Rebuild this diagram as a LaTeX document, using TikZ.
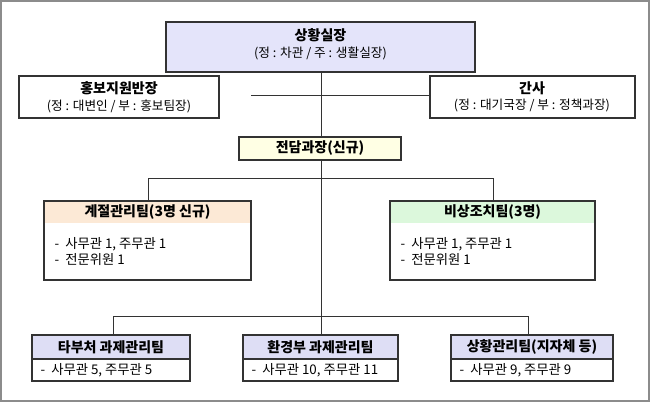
\documentclass[tikz,border=0pt]{standalone}
\usepackage{fontspec}
\setmainfont{Noto Sans CJK KR}
\definecolor{cTop}{RGB}{228,228,250}
\definecolor{cYel}{RGB}{255,255,228}
\definecolor{cOr}{RGB}{252,233,214}
\definecolor{cGr}{RGB}{220,248,220}
\definecolor{cBl}{RGB}{222,222,245}
\begin{document}
\begin{tikzpicture}[x=0.75pt,y=-0.75pt,
 bx/.style={draw=black!80,line width=0.8pt},
 ln/.style={draw=black!80,line width=0.6pt},
 hd/.style={font=\fontsize{10.5}{12}\selectfont\bfseries},
 tx/.style={font=\fontsize{9.5}{11}\selectfont,align=center},
 it/.style={font=\fontsize{10}{12}\selectfont,anchor=west,align=left}]
\draw[draw=black!45,line width=1pt] (1,1) rectangle (649,401);
\useasboundingbox (0,0) rectangle (650,402);
% lines
\draw[ln] (251,95) -- (430,95);
\draw[ln] (321,72) -- (321,335);
\draw[ln] (148,201) -- (148,178) -- (493,178) -- (493,201);
\draw[ln] (113,335) -- (113,316) -- (528,316) -- (528,335);
% top
\draw[bx,fill=cTop] (166,22) rectangle (475,72);
\node[hd] (top) at (320.5,35) {상황실장};
\node[tx] (tops) at (320.5,53) {(정 : 차관 / 주 : 생활실장)};
\draw[bx,fill=white] (19,76) rectangle (219,118);
\node[hd] (l) at (119,88) {홍보지원반장};
\node[tx] at (119,106) {(정 : 대변인 / 부 : 홍보팀장)};
\draw[bx,fill=white] (430,76) rectangle (635,118);
\node[hd] (r) at (532,88) {간사};
\node[tx] at (532,106) {(정 : 대기국장 / 부 : 정책과장)};
\draw[bx,fill=cYel] (239,137) rectangle (401,160);
\node[hd] (jd) at (320,148.5) {전담과장(신규)};
% mid boxes
\fill[cOr] (44,201) rectangle (251,223);
\draw[bx] (44,201) rectangle (251,280);
\node[hd] (g) at (147.5,212) {계절관리팀(3명 신규)};
\node[it] at (50,252) {-~ 사무관 1, 주무관 1\\-~ 전문위원 1};
\fill[cGr] (390,201) rectangle (595,223);
\draw[bx] (390,201) rectangle (595,280);
\node[hd] (b) at (492.5,212) {비상조치팀(3명)};
\node[it] at (396,252) {-~ 사무관 1, 주무관 1\\-~ 전문위원 1};
% bottom
\foreach \a/\b/\t/\s [count=\i] in {32/190/타부처 과제관리팀/사무관 5{,} 주무관 5, 243/398/환경부 과제관리팀/사무관 10{,} 주무관 11, 451/613/상황관리팀(지자체 등)/사무관 9{,} 주무관 9}{
 \draw[bx,fill=cBl] (\a,335) rectangle (\b,359);
 \draw[bx,fill=white] (\a,359) rectangle (\b,381);
 \node[hd] (bt\i) at ({(\a+\b)/2},347) {\t};
 \node[it] (bs\i) at (\a+4,370) {-~ \s};
}
\end{tikzpicture}
\end{document}
